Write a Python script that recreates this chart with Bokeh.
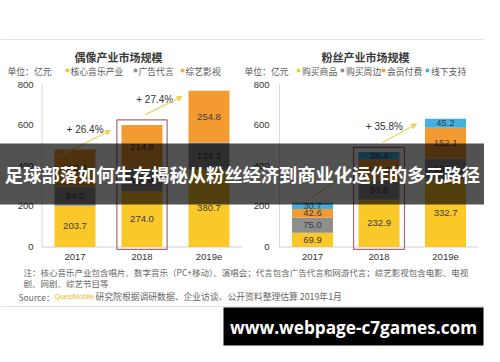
from bokeh.plotting import figure
from bokeh.models import Range1d, Arrow, NormalHead
from bokeh.core.properties import value
from bokeh.embed import file_html
from bokeh.resources import INLINE
import numpy as np

# ---------------- data ----------------
years = ["2017", "2018", "2019e"]
ticks = [0, 200, 400, 600, 800]

left_title = "偶像产业市场规模"
left_series = ["核心音乐产业", "广告代言", "综艺影视"]
music = [203.7, 274.0, 380.7]
ads = [94.0, 112.0, 134.3]
variety = [182.4, 214.8, 254.8]
left_growth = ["+ 26.4%", "+ 27.4%"]

right_title = "粉丝产业市场规模"
right_series = ["购买商品", "购买周边", "会员付费", "线下支持"]
goods = [69.9, 232.9, 332.7]
merch = [75.0, 93.8, 101.8]
member = [42.6, 102.3, 152.1]
offline = [30.7, 38.4, 45.2]
right_growth = ["+ 35.8%"]

unit = "单位：亿元"
note1 = "注：核心音乐产业包含唱片、数字音乐（PC+移动）、演唱会；代言包含广告代言和网游代言；综艺影视包含电影、电视"
note2 = "剧、网剧、综艺节目等"
src_a = "Source："
src_b = "QuestMobile"
src_c = "研究院根据调研数据、企业访谈、公开资料整理估算 2019年1月"
banner = "足球部落如何生存揭秘从粉丝经济到商业化运作的多元路径"
watermark = "www.webpage-c7games.com"

# ---------------- style ----------------
YEL = "#FBC82A"
GRY = "#8E8E8E"
ORG = "#F39B30"
BLU = "#45B0DF"
CJK = value("Noto Sans CJK SC")
NUM = value("Liberation Sans")
TXT = "#333333"

p = figure(width=484, height=346, x_range=Range1d(8, 492), y_range=Range1d(354, 8),
           min_border=0, toolbar_location=None, output_backend="svg",
           x_axis_type=None, y_axis_type=None, outline_line_color=None,
           background_fill_color="white", border_fill_color="white")
p.extra_x_ranges = {"lx": Range1d(-1.112, 6.112), "rx": Range1d(-4.692, 2.586)}
p.extra_y_ranges = {"v": Range1d(-489.9, 1213.7)}

# card
p.quad(left=3, right=497, top=47, bottom=314, fill_color="white", line_color="#E2E2E2", line_width=1)

idx = list(range(len(years)))


def chart(xr, axis_x, label_x, series_vals, colors, width):
    # axis lines
    p.segment(x0=[axis_x], y0=[0], x1=[axis_x], y1=[ticks[-1]], y_range_name="v",
              line_color="#D9D9D9", line_width=1)
    p.segment(x0=[-0.5], y0=[0], x1=[len(years) - 0.5], y1=[0], x_range_name=xr, y_range_name="v",
              line_color="#D0D0D0", line_width=1)
    # tick labels
    p.text(x=[label_x] * len(ticks), y=ticks, text=[str(t) for t in ticks], y_range_name="v",
           text_align="right", text_baseline="middle", text_font=NUM, text_font_size="9.5px",
           text_color=TXT)
    # year labels
    p.text(x=idx, y=[264] * len(years), text=years, x_range_name=xr, text_align="center",
           text_baseline="middle", text_font=NUM, text_font_size="9.5px", text_color=TXT)
    # stacked bars
    bottom = np.zeros(len(years))
    for vals, col in zip(series_vals, colors):
        vals = np.array(vals)
        p.vbar(x=idx, bottom=bottom, top=bottom + vals, width=width, fill_color=col,
               line_color=None, x_range_name=xr, y_range_name="v")
        p.text(x=idx, y=bottom + vals / 2, text=[f"{v:.1f}" for v in vals], x_range_name=xr,
               y_range_name="v", text_align="center", text_baseline="middle", text_font=NUM,
               text_font_size="9.5px", text_color="#3A3A3A")
        bottom = bottom + vals
    return bottom


lt = chart("lx", 49.5, 41, [music, ads, variety], [YEL, GRY, ORG], 0.612)
rt = chart("rx", 287, 277, [goods, merch, member, offline], [YEL, GRY, ORG, BLU], 0.617)

# highlight boxes around 2018
p.quad(left=[1 - 0.375], right=[1 + 0.375], top=[lt[1] + 25], bottom=[-12], x_range_name="lx",
       y_range_name="v", fill_color=None, line_color="#A86A72", line_width=1.2)
p.quad(left=[1 - 0.383], right=[1 + 0.383], top=[rt[1] + 23], bottom=[-12], x_range_name="rx",
       y_range_name="v", fill_color=None, line_color="#A86A72", line_width=1.2)

# growth arrows
ARW = "#EFD35A"
for (x0, y0, x1, y1, xr) in [(-0.246, lt[0] - 34, 0.53, lt[1] - 27, "lx"),
                             (1.05, lt[1] + 51, 1.60, lt[2] - 29, "lx"),
                             (-0.03, rt[0] + 21, 0.48, rt[1] - 110, "rx"),
                             (1.05, rt[1] + 47, 1.564, rt[2] - 26, "rx")]:
    p.add_layout(Arrow(x_start=x0, y_start=y0, x_end=x1, y_end=y1, x_range_name=xr, y_range_name="v",
                       line_color=ARW, line_width=1.2,
                       end=NormalHead(size=5, fill_color=ARW, line_color=ARW)))

p.text(x=[0.15, 1.19], y=[lt[1] - 22, lt[2] - 44], text=left_growth, x_range_name="lx", y_range_name="v",
       text_align="center", text_baseline="middle", text_font=NUM, text_font_size="10px", text_color=TXT)
p.text(x=[1.08], y=[rt[1] + 126], text=right_growth, x_range_name="rx", y_range_name="v",
       text_align="center", text_baseline="middle", text_font=NUM, text_font_size="10px", text_color=TXT)

# titles
p.text(x=[126, 373], y=[64, 64], text=[left_title, right_title], text_align="center",
       text_baseline="middle", text_font=CJK, text_font_size="11px", text_font_style="bold",
       text_color="#3A3A3A")

# legends
p.text(x=[15, 252], y=[79, 79], text=[unit, unit], text_align="left", text_baseline="middle",
       text_font=CJK, text_font_size="8.8px", text_color="#595959")
lmx = [75, 143, 190]
rmx = [306, 350, 391, 435]
p.rect(x=lmx + rmx, y=[78] * 7, width=3.5, height=3.5,
       fill_color=[YEL, GRY, "#EDB23A"] + [YEL, GRY, ORG, BLU], line_color=None)
p.text(x=[m + 3 for m in lmx] + [m + 3.5 for m in rmx], y=[79] * 7, text=left_series + right_series,
       text_align="left", text_baseline="middle", text_font=CJK, text_font_size="8.8px",
       text_color="#595959")

# footnotes
p.text(x=[31, 31], y=[279, 290], text=[note1, note2], text_align="left", text_baseline="middle",
       text_font=CJK, text_font_size="8.5px", text_color="#666666")
p.text(x=[26], y=[304], text=[src_a], text_align="left", text_baseline="middle",
       text_font=CJK, text_font_size="8.5px", text_color="#666666")
p.text(x=[62], y=[304], text=[src_b], text_align="left", text_baseline="middle",
       text_font=NUM, text_font_size="7px", text_color="#F0B428")
p.text(x=[103], y=[304], text=[src_c], text_align="left", text_baseline="middle",
       text_font=CJK, text_font_size="8.8px", text_color="#666666")

# overlay banner
p.quad(left=0, right=500, top=151, bottom=212, fill_color="black", fill_alpha=0.68,
       line_color=None, level="overlay")
p.text(x=[250], y=[181.5], text=[banner], text_align="center", text_baseline="middle",
       text_font=CJK, text_font_size="18.3px", text_font_style="bold", text_color="white",
       level="overlay")

# watermark box
p.quad(left=231, right=491, top=315, bottom=353, fill_color="black", line_color=None, level="overlay")
p.text(x=[361], y=[334.5], text=[watermark], text_align="center", text_baseline="middle",
       text_font=value("Open Sans"), text_font_size="17.2px", text_font_style="bold",
       text_color="white", level="overlay")

open("out.html", "w").write(file_html(p, INLINE))
